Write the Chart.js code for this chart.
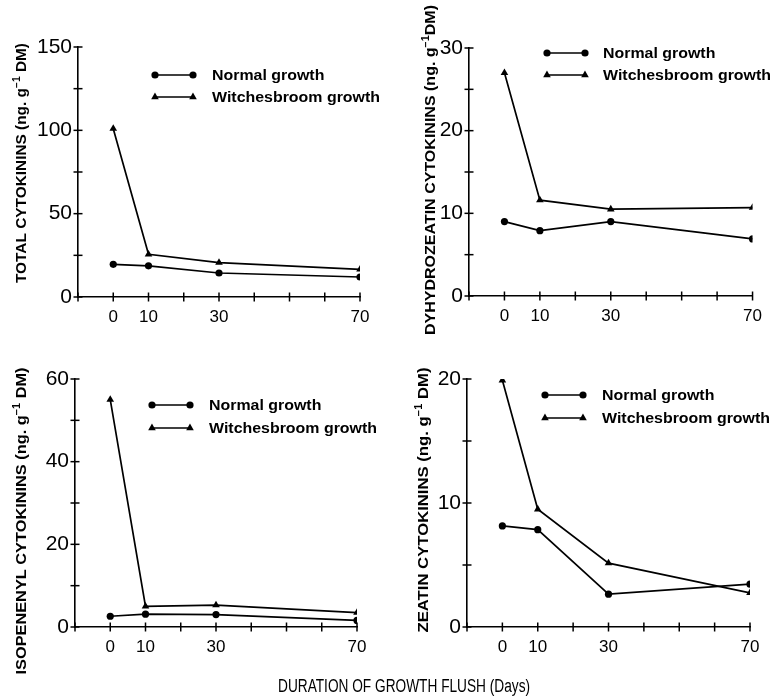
<!DOCTYPE html>
<html><head><meta charset="utf-8">
<script src="https://cdn.jsdelivr.net/npm/chart.js@4.4.0/dist/chart.umd.min.js"></script>
<style>
html,body{margin:0;padding:0;background:#fff;}
body{width:772px;height:698px;position:relative;overflow:hidden;font-family:"Liberation Sans",Arial,sans-serif;}
canvas{position:absolute;}
#xt{position:absolute;left:278px;top:676px;font-size:18px;color:#000;white-space:nowrap;transform:scaleX(0.76);transform-origin:0 0;}
</style></head><body>
<canvas id="c1"></canvas><canvas id="c2"></canvas><canvas id="c3"></canvas><canvas id="c4"></canvas>
<div id="xt">DURATION OF GROWTH FLUSH (Days)</div>
<script>
// ---- data ----
const days = [0, 10, 30, 70];
const xTickLabels = [0, 10, 30, 70];
const seriesNames = ["Normal growth", "Witchesbroom growth"];
const totalNormal   = [19.6, 18.7, 14.4, 12.0];
const totalWitches  = [101, 25.6, 20.6, 16.6];
const dhzNormal     = [9.0, 7.9, 9.0, 6.9];
const dhzWitches    = [27.0, 11.6, 10.5, 10.7];
const isoNormal     = [2.6, 3.1, 3.0, 1.6];
const isoWitches    = [55.0, 5.0, 5.3, 3.5];
const zeaNormal     = [8.15, 7.85, 2.65, 3.45];
const zeaWitches    = [19.9, 9.5, 5.15, 2.75];
const yTickLabels1 = [0, 50, 100, 150];
const yTickLabels2 = [0, 10, 20, 30];
const yTickLabels3 = [0, 20, 40, 60];
const yTickLabels4 = [0, 10, 20];

const panels = [
  {id:'c1', left:0, top:0, w:390, h:345, area:{l:78,r:360,t:47,b:297}, yMax:150, yStep:25, yLabels:yTickLabels1,
   data:[totalNormal,totalWitches],
   title:[{t:'TOTAL CYTOKININS (ng. g'},{t:'\u22121',sup:true},{t:' DM)'}], tx:22, ty:163, tl:240,
   leg:{mx:155, tx:212, ys:[75,97]}},
  {id:'c2', left:390, top:0, w:382, h:345, area:{l:469,r:754,t:48,b:296}, yMax:30, yStep:5, yLabels:yTickLabels2,
   data:[dhzNormal,dhzWitches],
   title:[{t:'DYHYDROZEATIN CYTOKININS (ng. g'},{t:'\u22121',sup:true},{t:'DM)'}], tx:431, ty:170, tl:330,
   leg:{mx:547, tx:603, ys:[53,75]}},
  {id:'c3', left:0, top:345, w:390, h:353, area:{l:75,r:357,t:379,b:627}, yMax:60, yStep:10, yLabels:yTickLabels3,
   data:[isoNormal,isoWitches],
   title:[{t:'ISOPENENYL CYTOKININS (ng. g'},{t:'\u22121',sup:true},{t:' DM)'}], tx:22, ty:521, tl:307,
   leg:{mx:152, tx:209, ys:[405,428]}},
  {id:'c4', left:390, top:345, w:382, h:353, area:{l:467,r:750,t:379,b:627}, yMax:20, yStep:5, yLabels:yTickLabels4,
   data:[zeaNormal,zeaWitches],
   title:[{t:'ZEATIN CYTOKININS (ng. g'},{t:'\u22121',sup:true},{t:' DM)'}], tx:424, ty:500, tl:265,
   leg:{mx:545, tx:602, ys:[395,418]}}
];

const styles = [
  {pointStyle:'circle', radius:3.6},
  {pointStyle:'triangle', radius:4.4}
];

function drawMarker(ctx, style, r, x, y){
  ctx.beginPath();
  if(style==='circle'){ ctx.arc(x,y,r,0,Math.PI*2); }
  else {
    let rad=0;
    ctx.moveTo(x+Math.sin(rad)*r, y-Math.cos(rad)*r);
    rad+=2*Math.PI/3; ctx.lineTo(x+Math.sin(rad)*r, y-Math.cos(rad)*r);
    rad+=2*Math.PI/3; ctx.lineTo(x+Math.sin(rad)*r, y-Math.cos(rad)*r);
    ctx.closePath();
  }
  ctx.fill();
}

const deco = {
  id:'deco',
  afterDraw(chart, args, o){
    const ctx=chart.ctx, xs=chart.scales.x, ys=chart.scales.y, a=chart.chartArea;
    ctx.save();
    ctx.strokeStyle='#000'; ctx.fillStyle='#000'; ctx.lineWidth=1.5;
    xs.ticks.forEach(t=>{const p=xs.getPixelForValue(t.value);ctx.beginPath();ctx.moveTo(p,a.bottom-4.5);ctx.lineTo(p,a.bottom+4.5);ctx.stroke();});
    ys.ticks.forEach(t=>{const p=ys.getPixelForValue(t.value);ctx.beginPath();ctx.moveTo(a.left-4.5,p);ctx.lineTo(a.left+4.5,p);ctx.stroke();});
    // legend
    ctx.textBaseline='middle';
    seriesNames.forEach((n,i)=>{
      const y=o.leg.ys[i]-o.top, x0=o.leg.mx-o.left, x1=x0+38;
      ctx.lineWidth=1.6;
      ctx.beginPath();ctx.moveTo(x0,y);ctx.lineTo(x1,y);ctx.stroke();
      drawMarker(ctx, styles[i].pointStyle, styles[i].radius, x0, y);
      drawMarker(ctx, styles[i].pointStyle, styles[i].radius, x1, y);
      ctx.font='bold 15px "Liberation Sans", Arial, sans-serif';
      const tw=ctx.measureText(seriesNames[1]).width;
      ctx.save();
      ctx.translate(o.leg.tx-o.left, y+1);
      ctx.scale(168/tw,1);
      ctx.fillText(n, 0, 0);
      ctx.restore();
    });
    // y title
    const fN='bold 15px "Liberation Sans", Arial, sans-serif', fS='bold 10px "Liberation Sans", Arial, sans-serif';
    let W=0; const ws=o.title.map(s=>{ctx.font=s.sup?fS:fN;const w=ctx.measureText(s.t).width;W+=w;return w;});
    ctx.translate(o.tx-o.left, o.ty-o.top);
    ctx.rotate(-Math.PI/2);
    ctx.scale(o.tl/W,1);
    let cx=-W/2;
    ctx.textBaseline='middle';
    o.title.forEach((s,i)=>{ctx.font=s.sup?fS:fN;ctx.fillText(s.t,cx,s.sup?-5:0);cx+=ws[i];});
    ctx.restore();
  }
};

panels.forEach(p=>{
  const cv=document.getElementById(p.id);
  cv.width=p.w; cv.height=p.h;
  cv.style.left=p.left+'px'; cv.style.top=p.top+'px';
  cv.style.width=p.w+'px'; cv.style.height=p.h+'px';
  const datasets=p.data.map((vals,i)=>({
    label:seriesNames[i],
    data:days.map((d,j)=>({x:d,y:vals[j]})),
    borderColor:'#000', backgroundColor:'#000', borderWidth:1.7,
    pointStyle:styles[i].pointStyle, pointRadius:styles[i].radius,
    pointBackgroundColor:'#000', pointBorderColor:'#000', pointBorderWidth:0,
    tension:0, fill:false
  }));
  new Chart(cv,{
    type:'line',
    data:{datasets},
    options:{
      responsive:false, animation:false, devicePixelRatio:1,
      layout:{padding:{top:p.area.t-p.top, right:(p.left+p.w)-p.area.r, left:0, bottom:0}},
      plugins:{legend:{display:false}, tooltip:{enabled:false},
        deco:{leg:p.leg, title:p.title, tx:p.tx, ty:p.ty, tl:p.tl, left:p.left, top:p.top}},
      scales:{
        x:{type:'linear', min:-10, max:70,
           afterFit:s=>{s.height=(p.top+p.h)-p.area.b;},
           grid:{display:false, drawTicks:false},
           border:{display:true, color:'#000', width:1.6},
           ticks:{stepSize:10, padding:10, color:'#000', font:{size:17, family:'"Liberation Sans", Arial, sans-serif'},
             maxRotation:0, autoSkip:false,
             callback:v=>xTickLabels.includes(v)?String(v):''}},
        y:{type:'linear', min:0, max:p.yMax,
           afterFit:s=>{s.width=p.area.l-p.left;},
           grid:{display:false, drawTicks:false},
           border:{display:true, color:'#000', width:1.6},
           ticks:{stepSize:p.yStep, padding:6, color:'#000', font:{size:21, family:'"Liberation Sans", Arial, sans-serif'},
             autoSkip:false,
             callback:v=>p.yLabels.includes(v)?String(v):''}}
      }
    },
    plugins:[deco]
  });
});
</script>
</body></html>
